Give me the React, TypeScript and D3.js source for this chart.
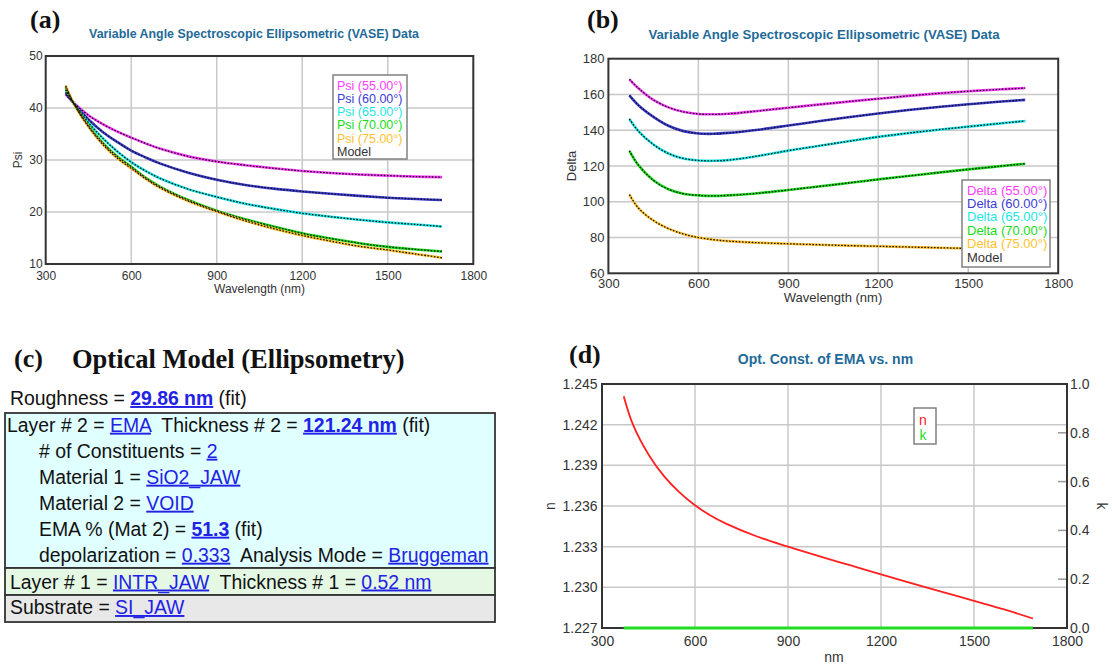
import * as d3 from 'd3'
import { useEffect, useRef } from 'react'

const WIDTH = 1112
const HEIGHT = 664
const SANS = 'Liberation Sans, Arial, Helvetica, sans-serif'
const SERIF = 'Liberation Serif, Times New Roman, serif'
const TITLE_COLOR = '#1f6a98'
const LINK_COLOR = '#2222e6'

// ---- data ----
const wavelengths = [370, 400, 450, 500, 550, 600, 650, 700, 800, 900, 1000, 1100, 1200, 1300, 1400, 1500, 1600, 1690]
const wavelengthTicks = [300, 600, 900, 1200, 1500, 1800]
const angleLabels = ['55.00°', '60.00°', '65.00°', '70.00°', '75.00°']
const angleColors = ['#ff3cff', '#3b3bd6', '#1de6e6', '#18dc18', '#ffc22e']

const psi55 = [42.6, 40.9, 38.6, 36.9, 35.5, 34.3, 33.2, 32.2, 30.7, 29.7, 29.0, 28.4, 27.9, 27.5, 27.2, 27.0, 26.8, 26.7]
const psi60 = [43.0, 40.8, 37.8, 35.4, 33.5, 31.8, 30.5, 29.35, 27.55, 26.2, 25.2, 24.5, 23.95, 23.5, 23.1, 22.75, 22.5, 22.3]
const psi65 = [43.5, 40.8, 37.2, 34.2, 31.7, 29.6, 27.9, 26.5, 24.4, 22.9, 21.6, 20.6, 19.75, 19.1, 18.5, 18.0, 17.6, 17.2]
const psi70 = [44.0, 40.7, 36.6, 33.3, 30.7, 28.7, 26.6, 24.9, 22.3, 20.25, 18.6, 17.2, 15.9, 14.9, 14.0, 13.3, 12.8, 12.4]
const psi75 = [44.3, 40.7, 36.4, 33.0, 30.4, 28.4, 26.4, 24.7, 22.1, 20.1, 18.3, 16.8, 15.5, 14.4, 13.4, 12.7, 11.9, 11.2]
const psiTicks = [10, 20, 30, 40, 50]

const delta55 = [168.5, 163.5, 157.0, 152.8, 150.3, 149.1, 148.9, 149.2, 150.8, 152.6, 154.3, 156.0, 157.6, 159.2, 160.6, 161.8, 162.8, 163.6]
const delta60 = [159.5, 154.0, 147.5, 142.5, 139.5, 138.2, 138.0, 138.5, 140.3, 142.6, 145.0, 147.3, 149.4, 151.3, 153.0, 154.5, 155.9, 157.0]
const delta65 = [146.3, 139.5, 132.0, 127.0, 124.2, 123.1, 122.9, 123.3, 125.6, 128.6, 131.2, 133.8, 136.3, 138.4, 140.3, 142.0, 143.7, 145.2]
const delta70 = [128.5, 120.5, 112.0, 107.0, 104.5, 103.6, 103.3, 103.6, 104.8, 106.6, 108.5, 110.5, 112.5, 114.4, 116.3, 118.1, 119.8, 121.3]
const delta75 = [104.0, 96.5, 89.5, 85.0, 82.0, 80.0, 78.8, 78.0, 77.1, 76.5, 76.0, 75.5, 75.1, 74.7, 74.3, 73.9, 73.6, 73.3]
const deltaTicks = [60, 80, 100, 120, 140, 160, 180]

const nValues = [1.2441, 1.2420, 1.2398, 1.2382, 1.2370, 1.23605, 1.2353, 1.2347, 1.23375, 1.2330, 1.2323, 1.23163, 1.23096, 1.2303, 1.22965, 1.2290, 1.22835, 1.2277]
const kValues = [0, 0, 0, 0, 0, 0, 0, 0, 0, 0, 0, 0, 0, 0, 0, 0, 0, 0]
const nTicks = [1.227, 1.230, 1.233, 1.236, 1.239, 1.242, 1.245]
const kTicks = [0, 0.2, 0.4, 0.6, 0.8, 1.0]

// optical model text: [text, kind] kind: '' plain, 'l' link, 'b' bold link
const modelRoughness = [['Roughness = ', ''], ['29.86 nm', 'b'], [' (fit)', '']]
const modelLayer2 = [
  [['Layer # 2 = ', ''], ['EMA', 'l'], ['  Thickness # 2 = ', ''], ['121.24 nm', 'b'], [' (fit)', '']],
  [['# of Constituents = ', ''], ['2', 'l']],
  [['Material 1 = ', ''], ['SiO2_JAW', 'l']],
  [['Material 2 = ', ''], ['VOID', 'l']],
  [['EMA % (Mat 2) = ', ''], ['51.3', 'b'], [' (fit)', '']],
  [['depolarization = ', ''], ['0.333', 'l'], ['  Analysis Mode = ', ''], ['Bruggeman', 'l']],
]
const modelLayer1 = [['Layer # 1 = ', ''], ['INTR_JAW', 'l'], ['  Thickness # 1 = ', ''], ['0.52 nm', 'l']]
const modelSubstrate = [['Substrate = ', ''], ['SI_JAW', 'l']]

const addText = (sel: any, x: number, y: number, txt: string, size: number, opts: any = {}) =>
  sel.append('text')
    .attr('x', x).attr('y', y)
    .attr('font-family', opts.family || SANS)
    .attr('font-size', size)
    .attr('font-weight', opts.weight || 'normal')
    .attr('fill', opts.fill || '#222')
    .attr('text-anchor', opts.anchor || 'start')
    .text(txt)

const drawAnglePanel = (svg: any, p: any) => {
  const x = d3.scaleLinear().domain([300, 1800]).range([p.left, p.right])
  const y = d3.scaleLinear().domain(p.yDomain).range([p.bottom, p.top])
  const g = svg.append('g')

  addText(g, p.letter.x, p.letter.y, p.letter.text, 26, { family: SERIF, weight: 'bold', fill: '#111' })
  addText(g, p.title.x, p.title.y, 'Variable Angle Spectroscopic Ellipsometric (VASE) Data', p.title.size,
    { weight: 'bold', fill: TITLE_COLOR, anchor: 'middle' })

  g.append('rect').attr('x', p.left).attr('y', p.top)
    .attr('width', p.right - p.left).attr('height', p.bottom - p.top).attr('fill', '#fff')

  g.append('g').selectAll('line').data(wavelengthTicks.slice(1, -1)).join('line')
    .attr('x1', (d: number) => x(d)).attr('x2', (d: number) => x(d))
    .attr('y1', p.top).attr('y2', p.bottom)
    .attr('stroke', '#c8c8c8').attr('stroke-width', 1.5)
  g.append('g').selectAll('line').data(p.yTicks.slice(1, -1)).join('line')
    .attr('x1', p.left).attr('x2', p.right)
    .attr('y1', (d: number) => y(d)).attr('y2', (d: number) => y(d))
    .attr('stroke', '#c8c8c8').attr('stroke-width', 1.5)

  const line = d3.line<number>()
    .x((_, i) => x(wavelengths[i]))
    .y(d => y(d))
    .curve(d3.curveCatmullRom.alpha(0.5))

  p.series.forEach((vals: number[], i: number) => {
    g.append('path').attr('d', line(vals)).attr('fill', 'none')
      .attr('stroke', angleColors[i]).attr('stroke-width', 2.6)
  })
  // model overlay
  p.series.forEach((vals: number[]) => {
    g.append('path').attr('d', line(vals)).attr('fill', 'none')
      .attr('stroke', '#111').attr('stroke-width', 1.3).attr('stroke-dasharray', '1.6 1.6')
  })

  g.append('rect').attr('x', p.left).attr('y', p.top)
    .attr('width', p.right - p.left).attr('height', p.bottom - p.top)
    .attr('fill', 'none').attr('stroke', '#333').attr('stroke-width', 2)

  const xAxis = g.append('g').attr('transform', `translate(0,${p.bottom})`)
    .call(d3.axisBottom(x).tickValues(wavelengthTicks).tickSize(0).tickPadding(p.padX).tickFormat(d3.format('d')))
  xAxis.select('.domain').remove()
  xAxis.attr('font-size', p.tickSize).attr('font-family', SANS)
  xAxis.selectAll('text').attr('fill', '#333')

  const yAxis = g.append('g').attr('transform', `translate(${p.left},0)`)
    .call(d3.axisLeft(y).tickValues(p.yTicks).tickSize(0).tickPadding(p.padY).tickFormat(d3.format('d')))
  yAxis.select('.domain').remove()
  yAxis.attr('font-size', p.tickSize).attr('font-family', SANS)
  yAxis.selectAll('text').attr('fill', '#333')

  addText(g, p.xLabel.x, p.xLabel.y, 'Wavelength (nm)', p.tickSize, { anchor: 'middle', fill: '#333' })
  addText(g, 0, 0, p.yLabel.text, p.tickSize, { anchor: 'middle', fill: '#333' })
    .attr('transform', `translate(${p.yLabel.x},${p.yLabel.y}) rotate(-90)`)

  // legend
  const lg = p.legend
  g.append('rect').attr('x', lg.x).attr('y', lg.y).attr('width', lg.w).attr('height', lg.h)
    .attr('fill', '#fff').attr('stroke', '#808080').attr('stroke-width', 1.5)
  const labels = angleLabels.map(a => `${p.prefix} (${a})`).concat(['Model'])
  labels.forEach((t, i) => {
    addText(g, lg.textX, lg.firstY + i * lg.row, t, lg.size, { fill: i < 5 ? angleColors[i] : '#333' })
  })
}

const drawModel = (svg: any) => {
  const g = svg.append('g')
  addText(g, 14, 367, '(c)', 26, { family: SERIF, weight: 'bold', fill: '#111' })
  addText(g, 72, 368, 'Optical Model (Ellipsometry)', 26.5, { family: SERIF, weight: 'bold', fill: '#111' })

  const boxL = 5, boxR = 495
  const bands = [
    { y0: 413, y1: 568, fill: '#e0ffff' },
    { y0: 568, y1: 595, fill: '#e4f8e4' },
    { y0: 595, y1: 622, fill: '#e8e8e8' },
  ]
  bands.forEach(b => {
    g.append('rect').attr('x', boxL).attr('y', b.y0).attr('width', boxR - boxL).attr('height', b.y1 - b.y0)
      .attr('fill', b.fill).attr('stroke', '#333').attr('stroke-width', 1.8)
  })

  const row = (segs: string[][], x: number, y: number) => {
    const t = g.append('text').attr('x', x).attr('y', y)
      .attr('font-family', SANS).attr('font-size', 19.4).attr('fill', '#111')
      .style('white-space', 'pre')
    segs.forEach(([s, kind]) => {
      const ts = t.append('tspan').text(s)
      if (kind) {
        ts.attr('fill', LINK_COLOR).attr('text-decoration', 'underline')
        if (kind === 'b') ts.attr('font-weight', 'bold')
      }
    })
  }

  row(modelRoughness, 10, 405)
  modelLayer2.forEach((segs, i) => row(segs, i === 0 ? 7 : 39, 431.7 + i * 26))
  row(modelLayer1, 10, 588.5)
  row(modelSubstrate, 10, 614)
}

const drawEmaPanel = (svg: any) => {
  const left = 602, right = 1067, top = 384, bottom = 628
  const x = d3.scaleLinear().domain([300, 1800]).range([left, right])
  const yN = d3.scaleLinear().domain([1.227, 1.245]).range([bottom, top])
  const yK = d3.scaleLinear().domain([0, 1]).range([bottom, top])
  const g = svg.append('g')

  addText(g, 569, 363, '(d)', 26, { family: SERIF, weight: 'bold', fill: '#111' })
  addText(g, 825.5, 364, 'Opt. Const. of EMA vs. nm', 14, { weight: 'bold', fill: TITLE_COLOR, anchor: 'middle' })

  g.append('g').selectAll('line').data(wavelengthTicks.slice(1, -1)).join('line')
    .attr('x1', (d: number) => x(d)).attr('x2', (d: number) => x(d))
    .attr('y1', top).attr('y2', bottom)
    .attr('stroke', '#c8c8c8').attr('stroke-width', 1.5)
  g.append('g').selectAll('line').data(nTicks.slice(1, -1)).join('line')
    .attr('x1', left).attr('x2', right)
    .attr('y1', (d: number) => yN(d)).attr('y2', (d: number) => yN(d))
    .attr('stroke', '#c8c8c8').attr('stroke-width', 1.5)
  g.append('g').selectAll('line').data(kTicks.slice(1, -1)).join('line')
    .attr('x1', right - 9).attr('x2', right)
    .attr('y1', (d: number) => yK(d)).attr('y2', (d: number) => yK(d))
    .attr('stroke', '#999').attr('stroke-width', 1.5)

  g.append('rect').attr('x', left).attr('y', top).attr('width', right - left).attr('height', bottom - top)
    .attr('fill', 'none').attr('stroke', '#333').attr('stroke-width', 2)

  const nLine = d3.line<number>().x((_, i) => x(wavelengths[i])).y(d => yN(d)).curve(d3.curveCatmullRom.alpha(0.5))
  const kLine = d3.line<number>().x((_, i) => x(wavelengths[i])).y(d => yK(d))
  g.append('path').attr('d', nLine(nValues)).attr('fill', 'none').attr('stroke', '#ff2020').attr('stroke-width', 1.8)
  g.append('path').attr('d', kLine(kValues)).attr('fill', 'none').attr('stroke', '#22dd22').attr('stroke-width', 3)

  const xAxis = g.append('g').attr('transform', `translate(0,${bottom})`)
    .call(d3.axisBottom(x).tickValues(wavelengthTicks).tickSize(0).tickPadding(8).tickFormat(d3.format('d')))
  xAxis.select('.domain').remove()
  xAxis.attr('font-size', 14).attr('font-family', SANS)
  xAxis.selectAll('text').attr('fill', '#333')

  const yAxis = g.append('g').attr('transform', `translate(${left},0)`)
    .call(d3.axisLeft(yN).tickValues(nTicks).tickSize(0).tickPadding(4.5).tickFormat(d3.format('.3f')))
  yAxis.select('.domain').remove()
  yAxis.attr('font-size', 14).attr('font-family', SANS)
  yAxis.selectAll('text').attr('fill', '#333')

  const kAxis = g.append('g').attr('transform', `translate(${right},0)`)
    .call(d3.axisRight(yK).tickValues(kTicks).tickSize(0).tickPadding(3).tickFormat(d3.format('.1f')))
  kAxis.select('.domain').remove()
  kAxis.attr('font-size', 14).attr('font-family', SANS)
  kAxis.selectAll('text').attr('fill', '#333')

  addText(g, 834, 662, 'nm', 14, { anchor: 'middle', fill: '#333' })
  addText(g, 0, 0, 'n', 14, { anchor: 'middle', fill: '#333' })
    .attr('transform', `translate(555,506) rotate(-90)`)
  addText(g, 0, 0, 'k', 14, { anchor: 'middle', fill: '#333' })
    .attr('transform', `translate(1097,506) rotate(90)`)

  g.append('rect').attr('x', 914).attr('y', 408).attr('width', 22).attr('height', 36)
    .attr('fill', '#fff').attr('stroke', '#808080').attr('stroke-width', 1.5)
  addText(g, 923, 424.5, 'n', 14, { anchor: 'middle', fill: '#ff2020' })
  addText(g, 923, 440, 'k', 14, { anchor: 'middle', fill: '#22dd22' })
}

export default function App() {
  const ref = useRef<SVGSVGElement>(null)

  useEffect(() => {
    const svg = d3.select(ref.current)
    svg.selectAll('*').remove()

    drawAnglePanel(svg, {
      left: 45.7, right: 473.3, top: 56, bottom: 264,
      yDomain: [10, 50], yTicks: psiTicks,
      series: [psi55, psi60, psi65, psi70, psi75], prefix: 'Psi',
      letter: { text: '(a)', x: 30, y: 28 },
      title: { x: 254, y: 38, size: 12.4 },
      tickSize: 12, padX: 7, padY: 3,
      yLabel: { text: 'Psi', x: 22, y: 160 },
      xLabel: { x: 259.5, y: 293 },
      legend: { x: 333, y: 75, w: 74, h: 84, textX: 337, firstY: 89.5, row: 13.3, size: 12.5 },
    })

    drawAnglePanel(svg, {
      left: 608.4, right: 1058.2, top: 58.7, bottom: 273.3,
      yDomain: [60, 180], yTicks: deltaTicks,
      series: [delta55, delta60, delta65, delta70, delta75], prefix: 'Delta',
      letter: { text: '(b)', x: 587, y: 28 },
      title: { x: 824, y: 38.5, size: 13.2 },
      tickSize: 13, padX: 5, padY: 4,
      yLabel: { text: 'Delta', x: 575.5, y: 166 },
      xLabel: { x: 833, y: 302 },
      legend: { x: 962, y: 180, w: 88, h: 87, textX: 967, firstY: 194.5, row: 13.4, size: 13 },
    })

    drawModel(svg)
    drawEmaPanel(svg)
  }, [])

  return <svg ref={ref} width={WIDTH} height={HEIGHT}
    style={{ position: 'absolute', left: 0, top: 0, background: '#fff' }} />
}
